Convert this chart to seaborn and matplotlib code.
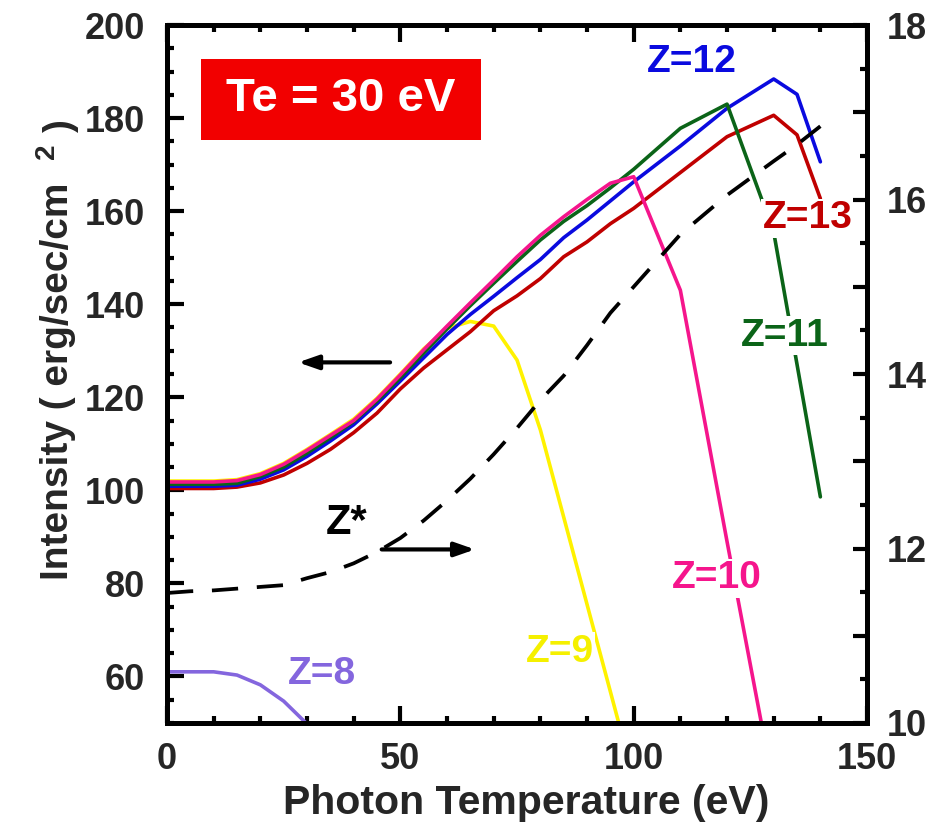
import numpy as np
import pandas as pd
import matplotlib
matplotlib.use("Agg")
import matplotlib.pyplot as plt
import seaborn as sns
from matplotlib.ticker import MultipleLocator, FixedLocator, FuncFormatter
from matplotlib.patches import Rectangle

# ---------------- data ----------------
x_bundle = [0, 5, 10, 15, 20, 25, 30, 35, 40, 45, 50, 55, 60, 65, 70, 75, 80, 85, 90, 95, 100]
z12_low = [100.9, 100.9, 100.9, 101.1, 102.4, 104.4, 107.3, 110.6, 114.1, 118.6, 123.5, 128.5, 133.5, 137.8, 141.7, 145.7, 149.6, 154.3, 158.1, 162.2, 166.3]
z13_low = [100.4, 100.4, 100.4, 100.7, 101.6, 103.3, 105.8, 108.8, 112.4, 116.6, 121.8, 126.3, 130.2, 134.1, 138.6, 141.8, 145.5, 150.2, 153.4, 157.3, 160.6]
z11_low = [101.3, 101.3, 101.3, 101.5, 103.0, 105.0, 108.0, 111.3, 114.8, 119.2, 124.2, 129.5, 134.7, 139.7, 144.5, 149.2, 153.8, 157.8, 161.2, 165.0, 169.0]
z10_low = [101.8, 101.8, 101.8, 102.1, 103.4, 105.6, 108.6, 111.8, 115.0, 119.6, 124.8, 130.2, 135.3, 140.3, 145.2, 150.2, 154.8, 158.8, 162.5, 166.0, 167.4]

x_hi = [110, 120, 130, 135, 140]
z12_hi = [174.0, 182.1, 188.4, 185.1, 170.6]
z13_hi = [168.3, 176.0, 180.6, 176.4, 162.7]

x_z11_hi = [110, 120, 130, 140]
z11_hi = [177.8, 183.0, 155.5, 98.6]

x_z10_hi = [110, 120, 130]
z10_hi = [143.0, 89.0, 36.0]

x_z9 = [0, 5, 10, 15, 20, 25, 30, 35, 40, 45, 50, 55, 60, 65, 70, 75, 80, 90, 100]
z9 = [102.0, 102.0, 102.0, 102.3, 103.6, 105.8, 108.8, 112.0, 115.3, 119.8, 125.0, 130.4, 134.8, 136.3, 135.3, 128.0, 113.0, 75.5, 38.0]

x_z8 = [0, 5, 10, 15, 20, 25, 30, 35]
z8 = [61.0, 61.0, 61.0, 60.3, 58.2, 54.7, 49.8, 43.0]

x_zstar = [0, 5, 10, 15, 20, 25, 30, 35, 40, 45, 50, 55, 60, 65, 70, 75, 80, 85, 90, 95, 100, 110, 120, 130, 135, 140]
zstar = [11.49, 11.51, 11.52, 11.54, 11.56, 11.58, 11.66, 11.73, 11.83, 11.96, 12.12, 12.32, 12.55, 12.80, 13.08, 13.38, 13.70, 13.98, 14.33, 14.70, 15.00, 15.60, 16.05, 16.44, 16.63, 16.84]

left_ticks = [60, 80, 100, 120, 140, 160, 180, 200]
right_ticks = [10, 12, 14, 16, 18]
x_ticks = [0, 50, 100, 150]

# ---------------- style ----------------
sns.set_style("ticks")
plt.rcParams['font.family'] = ['Liberation Sans', 'DejaVu Sans']
plt.rcParams['font.weight'] = 'bold'

colors = {
    'Z=8': '#8466DE',
    'Z=9': '#FFF200',
    'Z=10': '#F5158C',
    'Z=11': '#0B6418',
    'Z=12': '#0A0ADF',
    'Z=13': '#C00000',
}

fig = plt.figure(figsize=(9.33, 8.26), dpi=100)
ax = fig.add_axes([0.179, 0.1247, 0.7503, 0.8450])

lw = 2.6
def series(xs, ys, name):
    return pd.DataFrame({'x': xs, 'y': ys, 'series': name})

df = pd.concat([
    series(x_z8, z8, 'Z=8'),
    series(x_z9, z9, 'Z=9'),
    series(x_bundle + x_hi, z13_low + z13_hi, 'Z=13'),
    series(x_bundle + x_hi, z12_low + z12_hi, 'Z=12'),
    series(x_bundle + x_z11_hi, z11_low + z11_hi, 'Z=11'),
    series(x_bundle + x_z10_hi, z10_low + z10_hi, 'Z=10'),
], ignore_index=True)

for name in ['Z=8', 'Z=9', 'Z=13', 'Z=12', 'Z=11', 'Z=10']:
    sns.lineplot(data=df[df.series == name], x='x', y='y', ax=ax,
                 color=colors[name], lw=lw, legend=False, sort=False)

ax.set_xlim(0, 150)
ax.set_ylim(50, 200)

ax2 = ax.twinx()
dz = pd.DataFrame({'x': x_zstar, 'z': zstar})
sns.lineplot(data=dz, x='x', y='z', ax=ax2, color='black', lw=2.7,
             linestyle=(0, (7.0, 5.0)), legend=False)
ax2.set_ylim(10, 18)
ax2.set_xlim(0, 150)

# ---------------- axes styling ----------------
for a in (ax, ax2):
    for s in a.spines.values():
        s.set_linewidth(3.6)
        s.set_color('black')

ax.xaxis.set_major_locator(FixedLocator(x_ticks))
ax.xaxis.set_minor_locator(MultipleLocator(10))
ax.yaxis.set_major_locator(FixedLocator(left_ticks))
ax.yaxis.set_minor_locator(MultipleLocator(5))
ax.tick_params(which='both', direction='in', top=True, right=False, left=True,
               bottom=True, width=3, color='black')
ax.tick_params(which='major', length=12, labelsize=26, pad=14)
ax.tick_params(which='minor', length=5)
ax.tick_params(axis='y', which='major', pad=16)

ax2.yaxis.set_major_locator(FixedLocator(list(range(10, 19))))
ax2.yaxis.set_minor_locator(MultipleLocator(0.5))
ax2.yaxis.set_major_formatter(FuncFormatter(lambda v, p: f"{int(v)}" if int(round(v)) in right_ticks else ""))
ax2.tick_params(which='both', direction='in', right=True, left=False, width=3, color='black')
ax2.tick_params(which='major', length=10, labelsize=26, pad=14)
ax2.tick_params(which='minor', length=5)

for lab in ax.get_xticklabels() + ax.get_yticklabels() + ax2.get_yticklabels():
    lab.set_fontweight('bold')

ax2.set_ylabel('')
ax.set_xlabel('Photon Temperature (eV)', fontsize=29.5, fontweight='bold')
ax.xaxis.set_label_coords(0.513, -0.088)
ax.xaxis.label.set_va('top')

ax.set_ylabel('Intensity ( erg/sec/cm', fontsize=28, fontweight='bold')
ax.yaxis.label.set_va('center')
ax.yaxis.set_label_coords(-0.156, 0.489)
fig.text(47 / 933, 1 - 151 / 826, '2', rotation=90, fontsize=20, fontweight='bold',
         ha='center', va='center')
fig.text(61 / 933, 1 - 126 / 826, ')', rotation=90, fontsize=28, fontweight='bold',
         ha='center', va='center')

# ---------------- annotations ----------------
ax.add_patch(Rectangle((7.2, 175.3), 60.0, 17.4, facecolor='#F20000', edgecolor='none', zorder=5))
ax.text(37.2, 184.0, 'Te = 30 eV', color='white', fontsize=34, fontweight='bold',
        ha='center', va='center', zorder=6)

label_kw = dict(fontsize=28, fontweight='bold', ha='center', va='center', zorder=7)
ax.text(112.4, 192.1, 'Z=12', color=colors['Z=12'], **label_kw)
ax.text(137.3, 158.5, 'Z=13', color=colors['Z=13'],
        bbox=dict(facecolor='white', edgecolor='none', pad=1), **label_kw)
ax.text(132.4, 133.2, 'Z=11', color=colors['Z=11'],
        bbox=dict(facecolor='white', edgecolor='none', pad=1), **label_kw)
ax.text(117.9, 81.1, 'Z=10', color=colors['Z=10'],
        bbox=dict(facecolor='white', edgecolor='none', pad=1), **label_kw)
ax.text(84.1, 65.3, 'Z=9', color='#F5F000',
        bbox=dict(facecolor='white', edgecolor='none', pad=1), **label_kw)
ax.text(33.2, 60.5, 'Z=8', color=colors['Z=8'], **label_kw)
ax.text(38.5, 92.9, 'Z*', color='black', fontsize=30, fontweight='bold',
        ha='center', va='center', zorder=7)

arrow_kw = dict(arrowstyle='-|>,head_length=1.2,head_width=0.42', color='black', lw=3.0,
                shrinkA=0, shrinkB=0)
ax.annotate('', xy=(28.1, 127.5), xytext=(47.8, 127.5), arrowprops=arrow_kw, zorder=8)
ax.annotate('', xy=(66.0, 87.3), xytext=(46.0, 87.3), arrowprops=arrow_kw, zorder=8)

fig.savefig('out.png', dpi=100)
